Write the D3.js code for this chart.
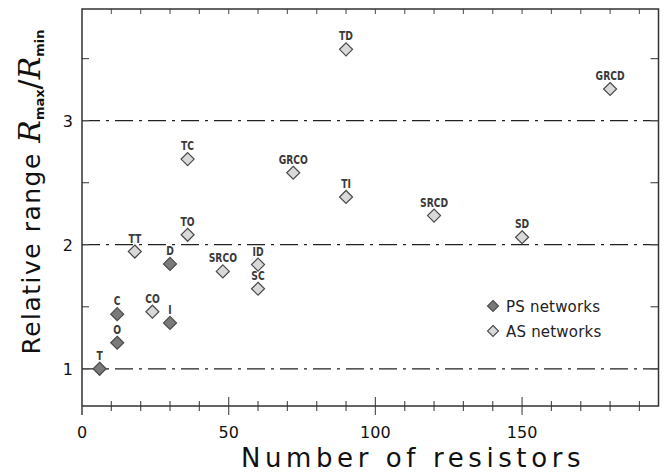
<!DOCTYPE html>
<html>
<head>
<meta charset="utf-8">
<script src="https://cdn.jsdelivr.net/npm/d3@7"></script>
<style>
  body { margin: 0; background: #fff; }
  svg { display: block; }
</style>
</head>
<body>
<svg width="670" height="475"></svg>
<script>
// network labels, resistor counts and relative range values
const names = ["T", "O", "C", "I", "D", "TT", "CO", "TO", "TC", "SRCO", "ID", "SC", "GRCO", "TD", "TI", "SRCD", "SD", "GRCD"];
const resistors = [6, 12, 12, 30, 30, 18, 24, 36, 36, 48, 60, 60, 72, 90, 90, 120, 150, 180];
const ranges = [1.0, 1.21, 1.44, 1.37, 1.845, 1.945, 1.46, 2.08, 2.69, 1.785, 1.84, 1.645, 2.58, 3.575, 2.385, 2.235, 2.06, 3.255];
const kinds = ["PS", "PS", "PS", "PS", "PS", "AS", "AS", "AS", "AS", "AS", "AS", "AS", "AS", "AS", "AS", "AS", "AS", "AS"];
const legend_items = ["PS networks", "AS networks"];
const x_ticks = [0, 50, 100, 150];
const y_ticks = [1, 2, 3];
const ref_lines = [1, 2, 3];

var x_scale, y_scale;
const LEFT = 82, RIGHT = 658.5, TOP = 9, BOTTOM = 406;
const FILL = { PS: "#7a7a7a", AS: "#d9d9d9" };
const AXIS_COL = "#333";
const FONT = "DejaVu Sans, sans-serif";

function build_scales() {
  x_scale = d3.scaleLinear().domain([0, 196.5]).range([LEFT, RIGHT]);
  y_scale = d3.scaleLinear().domain([0.7, 3.9]).range([BOTTOM, TOP]);
}

function diamond(r) {
  return "M0," + -r + "L" + r + ",0L0," + r + "L" + -r + ",0Z";
}

function draw_frame() {
  var svg = d3.select("svg");
  // reference lines
  svg.append("g").selectAll("line")
    .data(ref_lines)
    .enter()
    .append("line")
    .attr("x1", LEFT)
    .attr("x2", RIGHT)
    .attr("y1", (d) => y_scale(d))
    .attr("y2", (d) => y_scale(d))
    .attr("stroke", "#222")
    .attr("stroke-width", 1.3)
    .attr("stroke-dasharray", "18,6,3,6");

  // bottom axis, ticks crossing the line
  var xb = svg.append("g").attr("transform", "translate(0," + BOTTOM + ")");
  xb.selectAll("line.minor")
    .data(d3.range(10, 196, 10).filter((d) => d % 50 != 0))
    .enter().append("line")
    .attr("x1", (d) => x_scale(d)).attr("x2", (d) => x_scale(d))
    .attr("y1", -5).attr("y2", 5)
    .attr("stroke", "#555").attr("stroke-width", 1.2);
  xb.selectAll("line.major")
    .data(x_ticks)
    .enter().append("line")
    .attr("x1", (d) => x_scale(d)).attr("x2", (d) => x_scale(d))
    .attr("y1", (d) => (d == 0 ? 0 : -9)).attr("y2", 9)
    .attr("stroke", "#555").attr("stroke-width", 1.2);
  xb.selectAll("text")
    .data(x_ticks)
    .enter().append("text")
    .attr("x", (d) => x_scale(d))
    .attr("y", 32)
    .attr("text-anchor", "middle")
    .attr("font-family", FONT)
    .attr("font-size", 16)
    .attr("fill", "#111")
    .text((d) => d);

  // top axis, small inward ticks
  svg.append("g").selectAll("line")
    .data(d3.range(10, 196, 10))
    .enter().append("line")
    .attr("x1", (d) => x_scale(d)).attr("x2", (d) => x_scale(d))
    .attr("y1", TOP).attr("y2", TOP + 5)
    .attr("stroke", "#666").attr("stroke-width", 1.2);

  // left and right axes, inward ticks
  var yt = d3.range(1, 3.9, 0.5);
  svg.append("g").selectAll("line")
    .data(yt)
    .enter().append("line")
    .attr("x1", LEFT).attr("x2", LEFT + 7)
    .attr("y1", (d) => y_scale(d)).attr("y2", (d) => y_scale(d))
    .attr("stroke", "#555").attr("stroke-width", 1.2);
  svg.append("g").selectAll("line")
    .data(yt)
    .enter().append("line")
    .attr("x1", RIGHT - 8).attr("x2", RIGHT)
    .attr("y1", (d) => y_scale(d)).attr("y2", (d) => y_scale(d))
    .attr("stroke", "#555").attr("stroke-width", 1.2);
  svg.append("g").selectAll("text")
    .data(y_ticks)
    .enter().append("text")
    .attr("x", 73)
    .attr("y", (d) => y_scale(d) + 6)
    .attr("text-anchor", "end")
    .attr("font-family", FONT)
    .attr("font-size", 16)
    .attr("fill", "#111")
    .text((d) => d);

  // frame
  svg.append("path")
    .attr("d", "M" + LEFT + "," + TOP + "H" + RIGHT + "V" + BOTTOM + "H" + LEFT + "Z")
    .attr("fill", "none")
    .attr("stroke", AXIS_COL)
    .attr("stroke-width", 1.5);
  svg.append("line")
    .attr("x1", LEFT).attr("x2", LEFT)
    .attr("y1", BOTTOM).attr("y2", BOTTOM + 9)
    .attr("stroke", "#555").attr("stroke-width", 1.2);
}

function draw_points() {
  var svg = d3.select("svg");
  var data = names.map((n, i) => ({ name: n, x: resistors[i], y: ranges[i], kind: kinds[i] }));
  var g = svg.append("g")
    .selectAll("g")
    .data(data)
    .enter()
    .append("g")
    .attr("transform", (d) => "translate(" + x_scale(d.x) + "," + y_scale(d.y) + ")");
  g.append("path")
    .attr("d", diamond(6.5))
    .attr("fill", (d) => FILL[d.kind])
    .attr("stroke", "#4a4a4a")
    .attr("stroke-width", 1.2);
  // labels squeezed horizontally to match the condensed face
  g.append("text")
    .attr("transform", "translate(0,-9) scale(0.8,1)")
    .attr("text-anchor", "middle")
    .attr("font-family", FONT)
    .attr("font-weight", "bold")
    .attr("font-size", 11.5)
    .attr("fill", "#3a3a3a")
    .text((d) => d.name);
}

function draw_legend() {
  var svg = d3.select("svg");
  var lg = svg.append("g").attr("transform", "translate(493,306)");
  var items = lg.selectAll("g")
    .data(legend_items)
    .enter()
    .append("g")
    .attr("transform", (d, i) => "translate(0," + i * 25 + ")");
  items.append("path")
    .attr("d", diamond(5.5))
    .attr("fill", (d, i) => FILL[["PS", "AS"][i]])
    .attr("stroke", "#4a4a4a")
    .attr("stroke-width", 1.1);
  items.append("text")
    .attr("x", 13)
    .attr("y", 6)
    .attr("font-family", FONT)
    .attr("font-size", 15)
    .attr("letter-spacing", 0.2)
    .attr("fill", "#222")
    .text((d) => d);
}

function add_labels() {
  var svg = d3.select("svg");
  svg.append("text")
    .attr("x", 413)
    .attr("y", 467)
    .attr("text-anchor", "middle")
    .attr("font-family", FONT)
    .attr("font-size", 26)
    .attr("letter-spacing", 4.6)
    .attr("fill", "#111")
    .text("Number of resistors");

  var yl = svg.append("text")
    .attr("transform", "translate(40,192) rotate(-90)")
    .attr("text-anchor", "middle")
    .attr("font-family", FONT)
    .attr("font-size", 25)
    .attr("letter-spacing", 1.5)
    .attr("fill", "#111");
  yl.append("tspan").text("Relative range ");
  yl.append("tspan").attr("font-family", "DejaVu Serif, serif").attr("font-style", "italic").attr("font-size", 30).attr("letter-spacing", 0).text("R");
  yl.append("tspan").attr("font-size", 13).attr("font-weight", "bold").attr("letter-spacing", 0).attr("dy", 4).text("max");
  yl.append("tspan").attr("dy", -4).attr("font-size", 30).attr("letter-spacing", 0).text("/");
  yl.append("tspan").attr("font-family", "DejaVu Serif, serif").attr("font-style", "italic").attr("font-size", 30).attr("letter-spacing", 0).text("R");
  yl.append("tspan").attr("font-size", 13).attr("font-weight", "bold").attr("letter-spacing", 0).attr("dy", 4).text("min");
}

build_scales();
draw_frame();
draw_points();
draw_legend();
add_labels();
</script>
</body>
</html>
